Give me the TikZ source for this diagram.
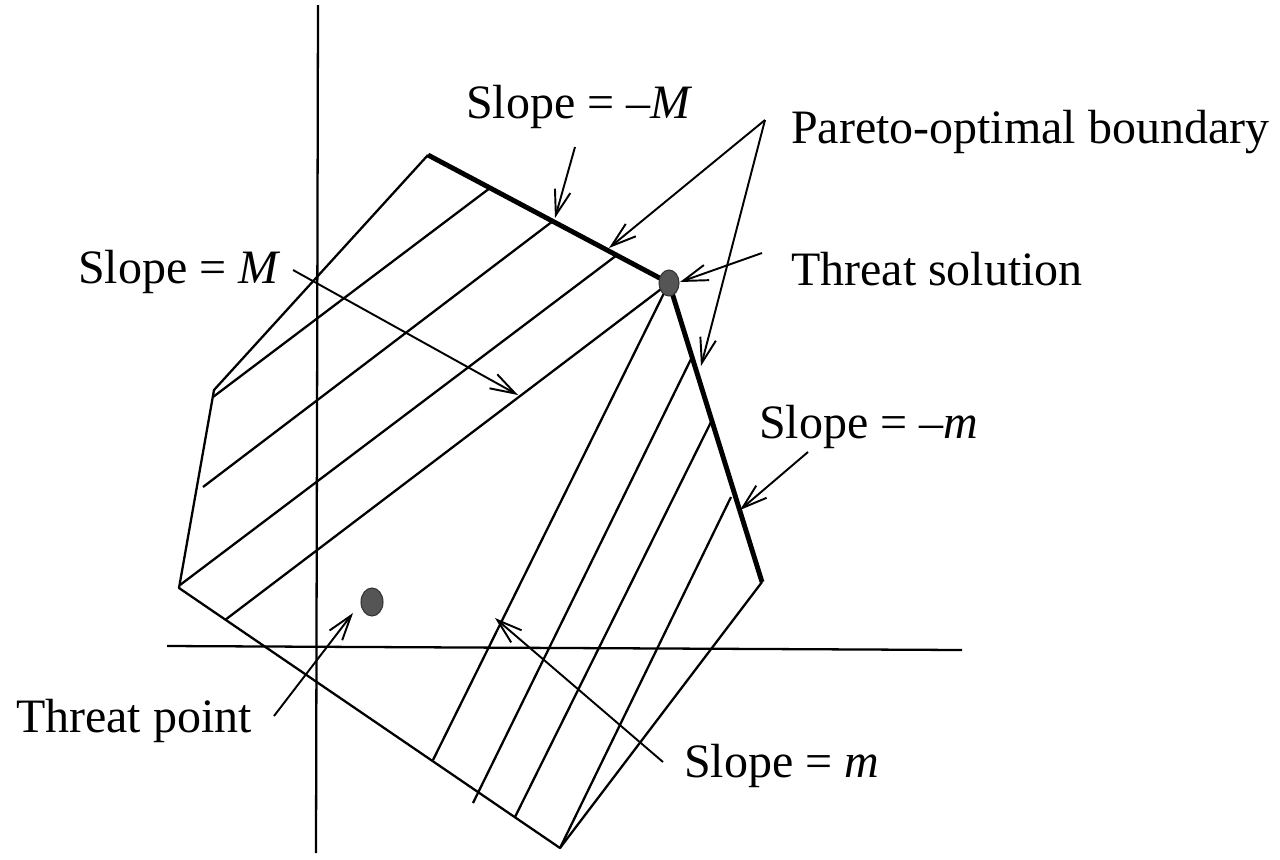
\documentclass[tikz,border=0pt]{standalone}
\usepackage{fontspec}
\setmainfont{Liberation Serif}
\usepackage{tikz}
\usetikzlibrary{arrows.meta,shapes.geometric}
\definecolor{ThreatDotColor}{RGB}{85,85,85}

\begin{document}
\begin{tikzpicture}[x=0.02cm,y=-0.02cm,line width=1.3pt,
 lbl/.style={anchor=base west,inner sep=0pt,font=\fontsize{27.3}{33}\selectfont},
 ptr/.style={-{Straight Barb[length=0.5cm,width=0.32cm]},line width=1.1pt},
 pareto/.style={line width=2.8pt,line join=round},
 dot/.style={ellipse,fill=ThreatDotColor,draw=black!80,line width=0.6pt,inner sep=0pt}]
\useasboundingbox (0,0) rectangle (1280,859);
% axes
\draw (318,5) -- (316,853);
\draw (167,646) -- (962,650);
% feasible set
\coordinate (tl) at (428,155);
\coordinate (ts) at (669,283);
\coordinate (rv) at (762,582);
\coordinate (bv) at (560,848);
\coordinate (bl) at (179,588);
\coordinate (lv) at (214,390);
\draw[line join=round] (rv) -- (bv) -- (bl) -- (lv) -- (tl);
\draw[pareto] (tl) -- (ts) -- (rv);
\foreach \a/\b in %
{{213,397}/{490,188},{203,487}/{553,221},{180,585}/{617,255},{225,620}/{669,283},
 {433,760}/{669,283},{473,803}/{692,357},{515,817}/{711,422},{560,848}/{731,497}} {
   \draw (\a) -- (\b);
}
\path (669,283) node[dot,minimum width=0.4cm,minimum height=0.52cm](tsdot) {};
\path (372,602) node[dot,minimum width=0.44cm,minimum height=0.56cm](tpdot) {};
% labels
\node[lbl](sMneg) at (465,118) {Slope = \textendash\textit{M}};
\node[lbl](pob) at (790,143) {Pareto-optimal boundary};
\node[lbl](tsol) at (790,285) {Threat solution};
\node[lbl](sMpos) at (77,283) {Slope = \textit{M}};
\node[lbl](smneg) at (758,438) {Slope = \textendash\textit{m}};
\node[lbl](smpos) at (683,777) {Slope = \textit{m}};
\node[lbl](tpt) at (15,732) {Threat point};
% pointers
\coordinate (sMnegT) at (575,147);  \coordinate (sMnegH) at (555,218);
\coordinate (pobT) at (765,120);    \coordinate (pobA) at (609,248);
\coordinate (pobB) at (701,366);
\coordinate (tsolT) at (762,253);   \coordinate (tsolH) at (680,282);
\coordinate (sMposT) at (293,270);  \coordinate (sMposH) at (518,395);
\coordinate (smnegT) at (808,452);  \coordinate (smnegH) at (740,510);
\coordinate (smposT) at (663,762);  \coordinate (smposH) at (495,618);
\coordinate (tptT) at (274,716);    \coordinate (tptH) at (353,613);
\foreach \t/\h in %
{sMnegT/sMnegH,pobT/pobA,pobT/pobB,tsolT/tsolH,sMposT/sMposH,smnegT/smnegH,smposT/smposH,tptT/tptH} {
   \draw[ptr] (\t) -- (\h);
}
\end{tikzpicture}
\end{document}
